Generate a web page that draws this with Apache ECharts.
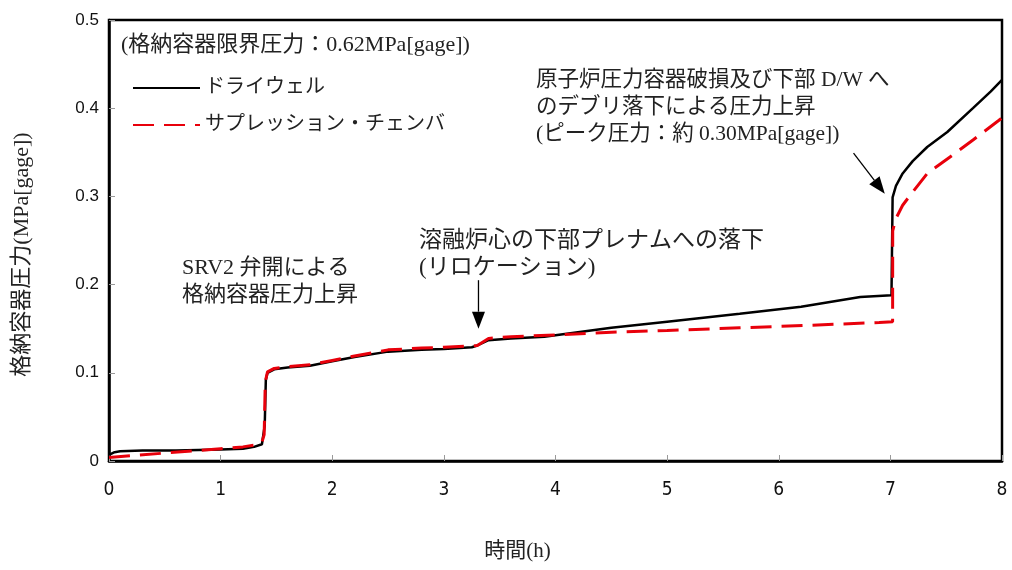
<!DOCTYPE html>
<html><head><meta charset="utf-8">
<script src="https://cdn.jsdelivr.net/npm/echarts@6/dist/echarts.min.js"></script>
<style>html,body{margin:0;padding:0;background:#fff}#c{width:1012px;height:570px}</style>
</head><body><div id="c"></div>
<script>
// ---- data ----
const dwTime = [0, 0.05, 0.1, 0.3, 0.6, 1.0, 1.2, 1.3, 1.37, 1.395, 1.405, 1.42, 1.48, 1.6, 1.8, 2.0, 2.2, 2.5, 2.8, 3.0, 3.25, 3.3, 3.4, 3.6, 3.9, 4.5, 5.0, 5.65, 6.2, 6.73, 7.01, 7.02, 7.05, 7.11, 7.2, 7.33, 7.51, 7.74, 7.9, 8.0];
const dwPressure = [0.007, 0.010, 0.011, 0.012, 0.012, 0.013, 0.014, 0.016, 0.019, 0.040, 0.092, 0.100, 0.104, 0.106, 0.108, 0.113, 0.118, 0.124, 0.126, 0.127, 0.129, 0.131, 0.137, 0.139, 0.141, 0.151, 0.158, 0.167, 0.175, 0.186, 0.188, 0.299, 0.312, 0.326, 0.340, 0.356, 0.373, 0.400, 0.419, 0.432];
const scTime = [0, 0.2, 0.5, 0.8, 1.0, 1.2, 1.3, 1.37, 1.39, 1.40, 1.42, 1.48, 1.6, 1.8, 2.0, 2.2, 2.5, 2.8, 3.0, 3.3, 3.4, 3.6, 4.0, 4.5, 5.0, 5.65, 6.3, 6.9, 7.02, 7.021, 7.05, 7.11, 7.2, 7.33, 7.56, 7.74, 7.97, 8.0];
const scPressure = [0.004, 0.006, 0.009, 0.012, 0.014, 0.016, 0.018, 0.021, 0.030, 0.090, 0.101, 0.105, 0.107, 0.109, 0.114, 0.119, 0.126, 0.128, 0.129, 0.131, 0.139, 0.141, 0.143, 0.146, 0.148, 0.151, 0.154, 0.157, 0.158, 0.261, 0.275, 0.290, 0.305, 0.326, 0.347, 0.364, 0.386, 0.389];
const xTicks = [0, 1, 2, 3, 4, 5, 6, 7, 8];
const yTicks = [0, 0.1, 0.2, 0.3, 0.4, 0.5];
const seriesNames = ['ドライウェル', 'サプレッション・チェンバ'];
const noteLimit = '(格納容器限界圧力：0.62MPa[gage])';
const noteRpv = ['原子炉圧力容器破損及び下部 D/W へ', 'のデブリ落下による圧力上昇', '(ピーク圧力：約 0.30MPa[gage])'];
const noteSrv = ['SRV2 弁開による', '格納容器圧力上昇'];
const noteReloc = ['溶融炉心の下部プレナムへの落下', '(リロケーション)'];
// arrows in data coords [from, to]
const arrowReloc = [[3.31, 0.205], [3.31, 0.150]];
const arrowRpv = [[6.67, 0.349], [6.95, 0.303]];

const FONT = "'Liberation Serif','Noto Sans CJK JP',serif";
const chart = echarts.init(document.getElementById('c'));
const zip = (a, b) => a.map((t, i) => [t, b[i]]);

chart.setOption({
  animation: false,
  backgroundColor: '#fff',
  grid: { left: 109, right: 10, top: 20, bottom: 109, show: true, borderColor: '#000', borderWidth: 2.5, containLabel: false },
  legend: {
    orient: 'vertical', left: 127, top: 73, itemWidth: 67, itemHeight: 14, itemGap: 17,
    itemStyle: { opacity: 0 },
    textStyle: { fontFamily: FONT, fontSize: 20, color: '#222' },
    data: seriesNames
  },
  xAxis: {
    type: 'value', min: xTicks[0], max: xTicks[xTicks.length - 1], interval: 1,
    name: '時間(h)', nameLocation: 'middle', nameGap: 80,
    nameTextStyle: { fontFamily: FONT, fontSize: 21, color: '#222', padding: [0, 76, 0, 0] },
    axisLine: { show: true, lineStyle: { color: '#000', width: 2.5 } },
    axisTick: { show: true, inside: true, length: 6, lineStyle: { color: '#999' } },
    axisLabel: { fontFamily: "'DejaVu Sans Condensed','Liberation Sans',sans-serif", fontSize: 19, color: '#111', margin: 20 },
    splitLine: { show: false }
  },
  yAxis: {
    type: 'value', min: yTicks[0], max: yTicks[yTicks.length - 1], interval: 0.1,
    name: '格納容器圧力(MPa[gage])', nameLocation: 'middle', nameGap: 76, nameRotate: 90,
    nameTextStyle: { fontFamily: FONT, fontSize: 22, color: '#222', padding: [0, 28, 0, 0] },
    axisLine: { show: true, lineStyle: { color: '#000', width: 2.5 } },
    axisTick: { show: true, inside: true, length: 6, lineStyle: { color: '#999' } },
    axisLabel: { fontFamily: "'Liberation Sans',sans-serif", fontSize: 17, color: '#111', margin: 10,
      formatter: v => v === 0 ? '0' : v.toFixed(1) },
    splitLine: { show: false }
  },
  series: [
    { name: seriesNames[0], type: 'line', symbol: 'none', data: zip(dwTime, dwPressure),
      lineStyle: { color: '#000', width: 2.5 }, itemStyle: { color: '#000' }, z: 2 },
    { name: seriesNames[1], type: 'line', symbol: 'none', data: zip(scTime, scPressure),
      lineStyle: { color: '#e8000b', width: 3, type: [21, 10] }, itemStyle: { color: '#e8000b' }, z: 3 }
  ]
});

function arrow(from, to) {
  const p0 = chart.convertToPixel({ gridIndex: 0 }, from);
  const p1 = chart.convertToPixel({ gridIndex: 0 }, to);
  const dx = p1[0] - p0[0], dy = p1[1] - p0[1];
  const L = Math.hypot(dx, dy), ux = dx / L, uy = dy / L;
  const hl = 17, hw = 6.5;
  const bx = p1[0] - ux * hl, by = p1[1] - uy * hl;
  return [
    { type: 'line', shape: { x1: p0[0], y1: p0[1], x2: bx, y2: by }, style: { stroke: '#000', lineWidth: 1.3 }, z: 10 },
    { type: 'polygon', shape: { points: [[p1[0], p1[1]], [bx - uy * hw, by + ux * hw], [bx + uy * hw, by - ux * hw]] }, style: { fill: '#000' }, z: 10 }
  ];
}
function textBlock(x, y, lines, lh, fs) {
  return lines.map((s, i) => ({ type: 'text', left: x, top: y + i * lh, style: { text: s, fontFamily: FONT, fontSize: fs, fill: '#222' }, z: 10 }));
}
chart.setOption({
  graphic: [
    ...textBlock(121, 34, [noteLimit], 27, 22),
    ...textBlock(536, 70, noteRpv, 27, 21.5),
    ...textBlock(182, 257, noteSrv, 27, 22),
    ...textBlock(419, 229, noteReloc, 27, 23),
    ...arrow(arrowReloc[0], arrowReloc[1]),
    ...arrow(arrowRpv[0], arrowRpv[1])
  ]
});
</script></body></html>
